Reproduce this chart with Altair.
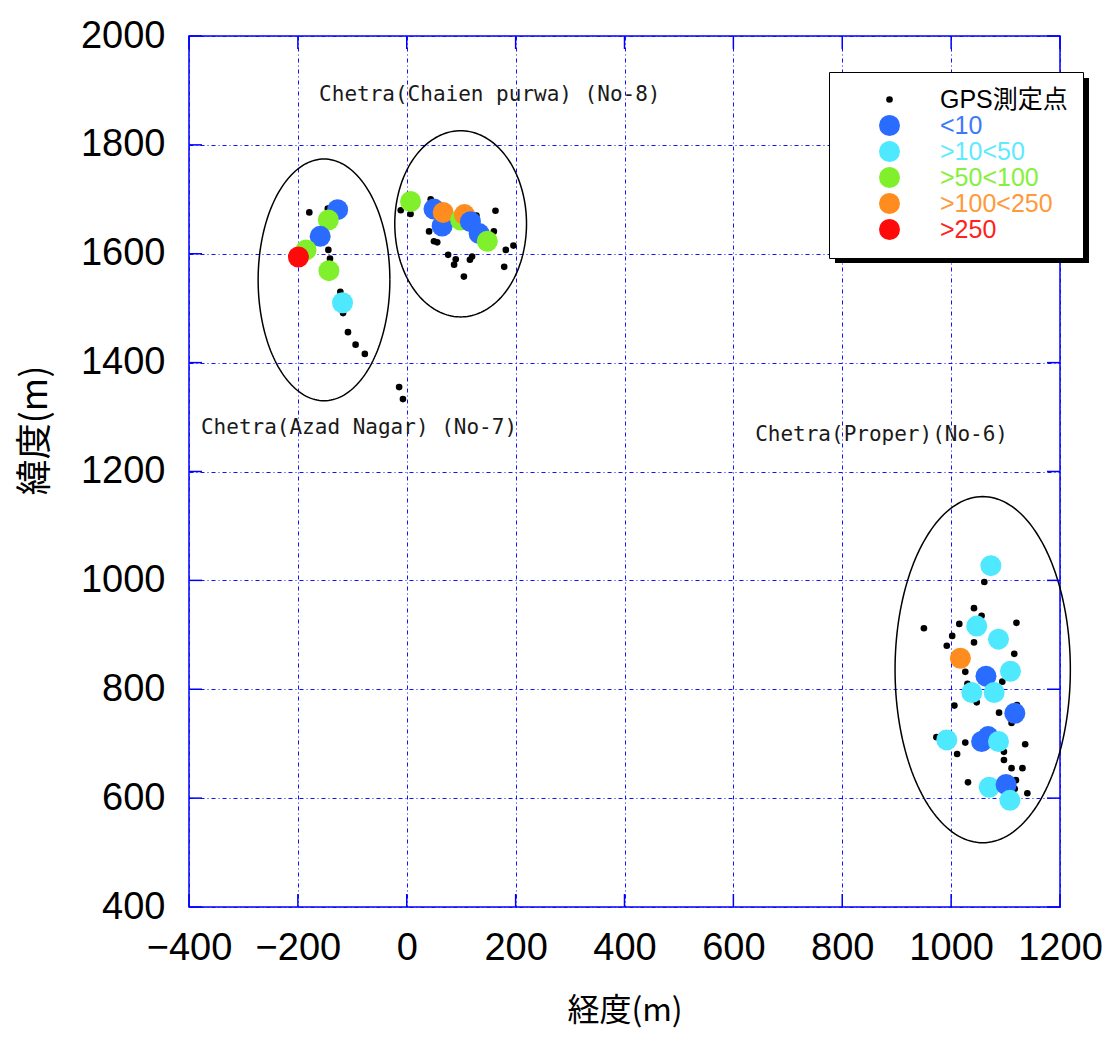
import altair as alt
import numpy as np
import pandas as pd

# ---------------- data ----------------
gps_x = [-179, -145, -144, -141, -122, -117, -108, -94, -77, -14, -7,
         -11, 7, 44, 128, 160, 163, 41, 50, 56, 76, 90, 87, 116, 105, 182, 196, 179, 120,
         1061, 1042, 1056, 950, 1015, 1120, 1042, 1002, 992, 1116, 1026, 1094, 1030, 1047,
         1006, 1088, 1121, 1111, 973, 1026, 1011, 1136, 1097, 1097, 1111, 1131, 1031, 1119,
         1140, 1117]
gps_y = [1676, 1683, 1607, 1591, 1530, 1491, 1456, 1433, 1416, 1355, 1333,
         1680, 1673, 1700, 1670, 1641, 1679, 1641, 1623, 1621, 1598, 1590, 1580, 1589, 1558, 1607, 1615, 1576, 1595,
         997, 949, 935, 912, 920, 922, 886, 898, 880, 865, 832, 814, 810, 776,
         770, 757, 771, 738, 712, 702, 681, 699, 685, 670, 655, 655, 629, 633,
         609, 617]

s_x = [-127, -144, -159, -185, -199, -143, -118,
       7, 50, 65, 67, 99, 106, 117, 133, 148,
       1073, 1047, 1087, 1017, 1109, 1064, 1038, 1079, 1117, 992, 1056, 1068, 1087, 1070, 1101, 1108]
s_y = [1681, 1662, 1632, 1607, 1594, 1569, 1510,
       1696, 1682, 1651, 1676, 1662, 1672, 1659, 1637, 1623,
       1027, 916, 892, 857, 833, 824, 794, 794, 756, 707, 704, 713, 704, 620, 625, 596]
s_cat = ["<10", ">50<100", "<10", ">50<100", ">250", ">50<100", ">10<50",
         ">50<100", "<10", "<10", ">100<250", ">50<100", ">100<250", "<10", "<10", ">50<100",
         ">10<50", ">10<50", ">10<50", ">100<250", ">10<50", "<10", ">10<50", ">10<50", "<10",
         ">10<50", "<10", "<10", ">10<50", ">10<50", "<10", ">10<50"]

cats = ["GPS測定点", "<10", ">10<50", ">50<100", ">100<250", ">250"]
cat_colors = ["#000000", "#2a6cff", "#4ee8ff", "#80f02c", "#ff8c1e", "#ff0a0a"]
label_colors = ["#000000", "#3a7aff", "#5eeaff", "#86f03a", "#ff9a3a", "#ff2020"]
cat_sizes = [44, 441, 441, 441, 441, 441]

ell_cx = [-152, 99, 1058]
ell_cy = [1552, 1655, 836]
ell_rx = [121, 121, 161]
ell_ry = [222, 171, 318]

ann_text = ["Chetra(Chaien purwa) (No-8)", "Chetra(Azad Nagar) (No-7)", "Chetra(Proper)(No-6)"]
ann_x = [-161, -378, 640]
ann_y = [1892, 1280, 1267]

x_ticks = [-400, -200, 0, 200, 400, 600, 800, 1000, 1200]
y_ticks = [400, 600, 800, 1000, 1200, 1400, 1600, 1800, 2000]

# ---------------- tables ----------------
W, H = 871, 871
XMIN, XMAX, YMIN, YMAX = -400, 1200, 400, 2000

pts = pd.DataFrame({
    "x": gps_x + s_x,
    "y": gps_y + s_y,
    "cat": ["GPS測定点"] * len(gps_x) + s_cat,
})
pts["ord"] = range(len(pts))

rows = []
t = np.linspace(0, 2 * np.pi, 181)
for i, (cx, cy, rx, ry) in enumerate(zip(ell_cx, ell_cy, ell_rx, ell_ry)):
    for k, a in enumerate(t):
        rows.append({"x": cx + rx * np.cos(a), "y": cy + ry * np.sin(a), "g": i, "k": k})
ell = pd.DataFrame(rows)

tlx = 13 / W * (XMAX - XMIN)
tly = 13 / H * (YMAX - YMIN)
trows = []
for v in x_ticks:
    trows.append({"x": v, "x2": v, "y": YMIN, "y2": YMIN + tly})
    trows.append({"x": v, "x2": v, "y": YMAX, "y2": YMAX - tly})
for v in y_ticks:
    trows.append({"x": XMIN, "x2": XMIN + tlx, "y": v, "y2": v})
    trows.append({"x": XMAX, "x2": XMAX - tlx, "y": v, "y2": v})
ticks = pd.DataFrame(trows)

ann = pd.DataFrame({"x": ann_x, "y": ann_y, "t": ann_text})

# ---------------- encodings ----------------
xs = alt.Scale(domain=[XMIN, XMAX], nice=False, zero=False)
ys = alt.Scale(domain=[YMIN, YMAX], nice=False, zero=False)
xaxis = alt.Axis(values=x_ticks, format="d", title="経度(m)", grid=True, labelFlush=False,
                 labelPadding=22, titleY=103, titleBaseline="middle")
yaxis = alt.Axis(values=y_ticks, format="d", title="緯度(m)", grid=True, labelFlush=False,
                 labelPadding=24, titleX=-154, titleY=394, titleBaseline="middle",
                 titleAlign="center")
X = alt.X("x:Q", scale=xs, axis=xaxis)
Y = alt.Y("y:Q", scale=ys, axis=yaxis)

color_expr = "[" + ",".join("'%s'" % c for c in label_colors) + "][indexof([" + \
    ",".join("'%s'" % c for c in cats) + "], datum.label)]"
legend = alt.Legend(
    title=None, orient="none", legendX=640, legendY=36,
    padding=15, strokeColor="#000000", fillColor="#ffffff",
    symbolOffset=33, labelOffset=38, labelFontSize=25,
    labelFont="Liberation Sans, Noto Sans CJK JP",
    labelColor=alt.ExprRef(expr=color_expr), rowPadding=0,
    symbolStrokeWidth=0, symbolType="circle",
)

shadow_df = pd.DataFrame({"a": [0]})
shadow = alt.Chart(shadow_df).mark_rect(color="#000000").encode(
    x=alt.value(646), x2=alt.value(900), y=alt.value(42), y2=alt.value(227)
)

ellipses = alt.Chart(ell).mark_line(color="#000000", strokeWidth=1.5).encode(
    x=X, y=Y, detail="g:N", order="k:Q"
)

points = alt.Chart(pts).mark_circle(opacity=1).encode(
    x=X, y=Y,
    color=alt.Color("cat:N", scale=alt.Scale(domain=cats, range=cat_colors), legend=legend),
    size=alt.Size("cat:N", scale=alt.Scale(type="ordinal", domain=cats, range=cat_sizes), legend=legend),
    order=alt.Order("ord:Q"),
)

tick_marks = alt.Chart(ticks).mark_rule(color="#0000ff", strokeWidth=1.5).encode(
    x=X, x2="x2:Q", y=Y, y2="y2:Q"
)

texts = alt.Chart(ann).mark_text(
    align="left", baseline="middle", font="DejaVu Sans Mono", fontSize=21, color="#1a1a1a"
).encode(x=X, y=Y, text="t:N")

chart = alt.layer(shadow, ellipses, tick_marks, points, texts).properties(
    width=W, height=H,
    autosize=alt.AutoSizeParams(type="none"),
    padding={"left": 189, "top": 36, "right": 51, "bottom": 139},
    background="#ffffff",
).configure_view(
    stroke="#0000ff", strokeWidth=1.5
).configure_axis(
    domain=False, ticks=False,
    gridColor="#1010ff", gridDash=[4, 3, 1, 3], gridWidth=1, gridOpacity=1,
    labelFont="Liberation Sans", labelFontSize=38, labelColor="#000000",
    titleFont="Noto Sans CJK JP", titleFontWeight="normal", titleColor="#000000",
).configure_axisX(
    titleFontSize=32
).configure_axisY(
    titleFontSize=36
)

chart.save("out.html", embed_options={"renderer": "svg", "actions": False})
